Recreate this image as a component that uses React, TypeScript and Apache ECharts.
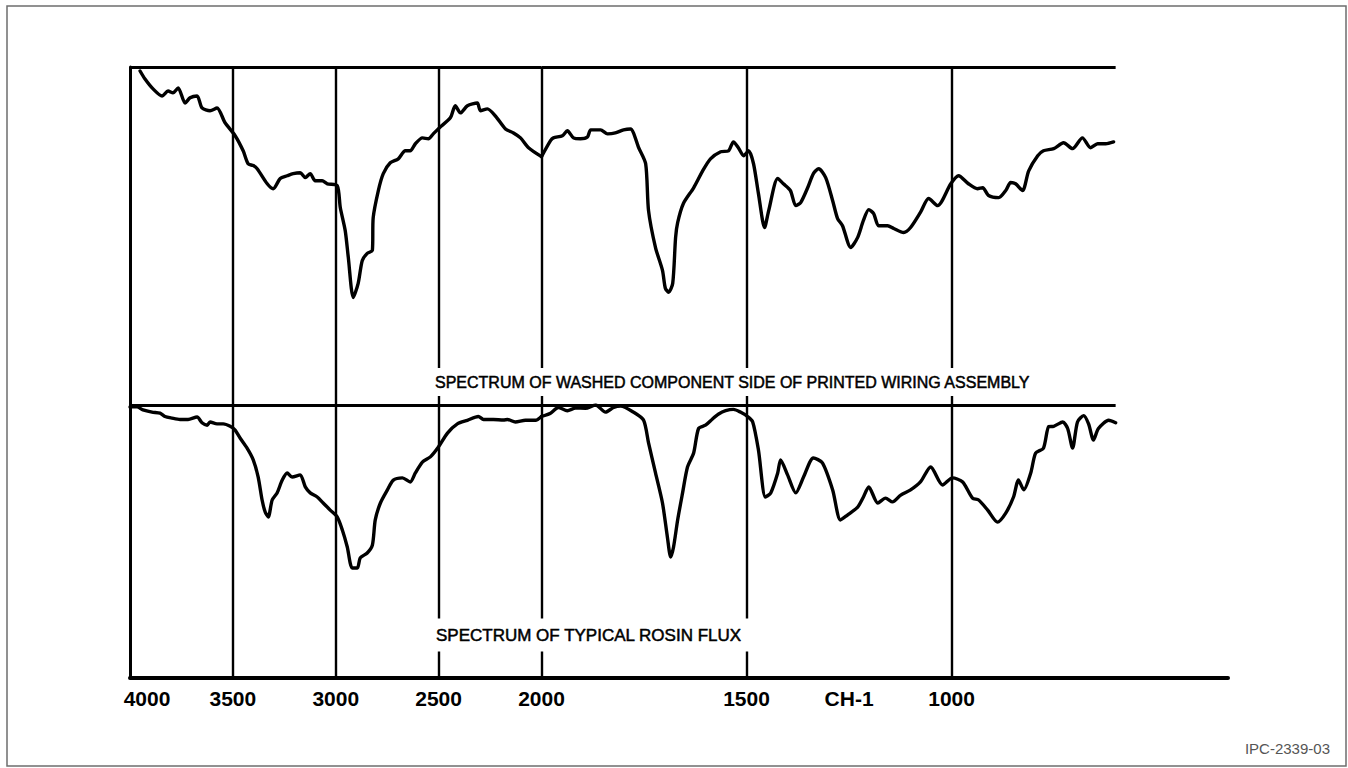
import React, { useEffect, useRef } from "react";
import * as echarts from "echarts";

// Infrared spectra: [wavenumber (cm-1), transmittance (relative %)]
const TOP_SPECTRUM: [number, number][] = [
  [3951, 98.7], [3927, 96.1], [3888, 92.9], [3844, 90.6], [3815, 92.2], [3791, 91.6], [3766, 93.2], [3732, 88.3],
  [3708, 90.0], [3674, 90.6], [3650, 86.7], [3611, 85.8], [3577, 86.7], [3538, 81.9], [3489, 77.7], [3450, 72.8],
  [3426, 68.6], [3401, 68.0], [3382, 67.0], [3333, 62.1], [3304, 60.5], [3270, 63.8], [3236, 64.7], [3207, 65.4],
  [3173, 65.7], [3148, 64.1], [3124, 65.4], [3100, 63.1], [3066, 63.1], [3041, 62.1], [2993, 61.5], [2978, 54.4],
  [2954, 46.9], [2939, 38.2], [2915, 25.2], [2891, 29.8], [2871, 37.2], [2847, 39.5], [2822, 40.5], [2818, 51.1],
  [2793, 59.9], [2769, 65.4], [2735, 68.9], [2696, 70.2], [2662, 72.8], [2638, 72.8], [2613, 75.1], [2579, 77.0],
  [2550, 76.7], [2526, 78.3], [2496, 80.3], [2443, 83.5], [2419, 87.4], [2394, 85.1], [2360, 87.4], [2312, 88.3],
  [2297, 85.8], [2263, 86.4], [2224, 84.1], [2175, 79.9], [2136, 78.6], [2102, 77.0], [2063, 73.8], [2000, 70.9],
  [1978, 76.1], [1971, 77.0], [1949, 77.7], [1937, 79.3], [1922, 77.0], [1905, 76.7], [1888, 77.3], [1880, 79.6],
  [1856, 79.6], [1839, 78.3], [1820, 78.6], [1800, 79.6], [1783, 79.9], [1763, 73.8], [1746, 68.6], [1739, 53.4],
  [1722, 41.4], [1705, 34.0], [1698, 28.2], [1690, 26.9], [1680, 29.8], [1673, 44.7], [1668, 49.5], [1654, 55.7],
  [1629, 60.8], [1607, 66.3], [1588, 70.2], [1563, 72.5], [1544, 72.8], [1532, 75.7], [1520, 73.8], [1507, 71.2],
  [1495, 72.8], [1483, 68.6], [1471, 58.9], [1456, 47.9], [1446, 53.4], [1424, 63.8], [1410, 62.1], [1393, 59.9],
  [1380, 55.0], [1368, 56.0], [1351, 60.8], [1337, 65.4], [1324, 67.0], [1307, 64.1], [1290, 56.6], [1278, 50.8],
  [1266, 48.5], [1246, 41.4], [1229, 44.7], [1215, 50.2], [1202, 53.7], [1190, 52.4], [1178, 48.5], [1156, 48.5],
  [1141, 47.6], [1117, 46.3], [1100, 47.9], [1076, 52.8], [1056, 57.3], [1034, 55.0], [1002, 62.1], [983, 64.7],
  [959, 62.1], [937, 60.5], [924, 60.8], [910, 58.3], [885, 57.6], [868, 59.9], [856, 62.5], [844, 62.1],
  [827, 59.9], [812, 66.3], [790, 71.2], [776, 72.8], [751, 73.5], [727, 75.4], [705, 73.5], [681, 77.0],
  [661, 73.8], [644, 75.1], [624, 75.1], [605, 75.7],
];

const BOTTOM_SPECTRUM: [number, number][] = [
  [4000, 99.3], [3966, 99.3], [3937, 98.2], [3893, 97.4], [3854, 97.0], [3830, 95.8], [3796, 95.2], [3757, 94.7],
  [3718, 94.7], [3674, 95.6], [3650, 93.5], [3625, 92.6], [3611, 93.8], [3577, 93.1], [3547, 93.1], [3513, 92.2],
  [3489, 90.8], [3465, 87.9], [3431, 84.2], [3401, 79.9], [3377, 73.6], [3358, 65.2], [3343, 60.8], [3328, 59.0],
  [3309, 65.2], [3285, 67.8], [3260, 72.5], [3236, 75.1], [3212, 73.6], [3173, 74.4], [3148, 70.0], [3124, 67.8],
  [3090, 66.3], [3061, 64.1], [3027, 61.5], [2993, 59.0], [2968, 54.2], [2944, 48.0], [2920, 40.3], [2895, 40.3],
  [2881, 44.0], [2847, 45.8], [2822, 48.7], [2808, 57.9], [2783, 64.1], [2749, 68.9], [2720, 72.5], [2676, 73.3],
  [2638, 71.8], [2613, 75.1], [2579, 79.1], [2540, 81.0], [2501, 84.6], [2457, 89.7], [2409, 93.1], [2360, 94.4],
  [2307, 95.8], [2282, 94.7], [2234, 94.7], [2185, 94.5], [2165, 94.7], [2127, 93.8], [2078, 94.4], [2029, 94.4],
  [2000, 95.8], [1978, 97.0], [1959, 99.1], [1937, 97.9], [1917, 98.9], [1893, 98.8], [1868, 100.0], [1844, 97.4],
  [1824, 99.1], [1807, 99.6], [1776, 97.4], [1751, 94.4], [1739, 86.1], [1722, 75.1], [1705, 64.1], [1693, 51.6],
  [1685, 44.3], [1678, 48.0], [1668, 57.9], [1656, 67.8], [1644, 77.3], [1629, 82.4], [1617, 91.4], [1600, 92.6],
  [1583, 94.9], [1568, 96.7], [1551, 97.9], [1532, 98.4], [1515, 97.4], [1498, 95.8], [1485, 93.8], [1471, 83.5],
  [1454, 66.3], [1441, 67.8], [1424, 75.1], [1417, 79.9], [1400, 74.4], [1380, 67.8], [1361, 73.6], [1337, 80.6],
  [1315, 78.8], [1290, 68.9], [1271, 57.9], [1254, 59.7], [1229, 62.6], [1215, 66.3], [1202, 70.0], [1180, 64.1],
  [1161, 65.9], [1144, 64.5], [1124, 67.0], [1100, 68.9], [1076, 71.8], [1051, 77.3], [1022, 70.7], [998, 73.3],
  [973, 71.8], [949, 65.9], [934, 65.2], [912, 61.5], [888, 57.1], [868, 60.4], [849, 66.3], [837, 72.5],
  [824, 68.9], [807, 75.1], [795, 82.4], [776, 84.2], [763, 92.1], [751, 92.2], [729, 93.8], [717, 91.4],
  [705, 84.2], [693, 93.8], [678, 96.1], [666, 93.1], [654, 87.2], [642, 91.4], [617, 94.4], [600, 93.5],
];

const SCALE_BREAK = 2000; // spectrometer doubles its scale below 2000 cm-1
const LEFT_TICKS = [4000, 3500, 3000, 2500, 2000];
const RIGHT_TICKS = [1500, 1250, 1000];
const RIGHT_TICK_LABELS = ["1500", "CH-1", "1000"];
const GRID_LINES_LEFT = [3500, 3000, 2500, 2000];
const GRID_LINES_RIGHT = [1500, 1000];
const FRAME_END = 600;
const RIGHT_AXIS_MIN = 326;
const TOP_Y_RANGE = [-9.7, 100];
const BOTTOM_Y_RANGE = [0, 100];
const TOP_LABEL = "SPECTRUM OF WASHED COMPONENT SIDE OF PRINTED WIRING ASSEMBLY";
const BOTTOM_LABEL = "SPECTRUM OF TYPICAL ROSIN FLUX";
const FIGURE_ID = "IPC-2339-03";

const FONT = '"Liberation Sans", Arial, Helvetica, sans-serif';

function buildOption() {
  const leftPart = (s: [number, number][]) => s.filter((p) => p[0] >= SCALE_BREAK);
  const rightPart = (s: [number, number][]) => s.filter((p) => p[0] <= SCALE_BREAK);

  const vLineStyle = { color: "#000", width: 2.4, type: "solid" as const };
  const hLineStyle = { color: "#000", width: 3, type: "solid" as const };

  const markLines = (verticals: number[], from: number, to: number) => ({
    silent: true,
    symbol: ["none", "none"],
    label: { show: false },
    animation: false,
    lineStyle: vLineStyle,
    data: [
      ...verticals.map((v) => ({ xAxis: v, lineStyle: vLineStyle })),
      [
        { coord: [from, 100], lineStyle: hLineStyle },
        { coord: [to, 100] },
      ],
    ],
  });

  const lineSeries = (data: [number, number][], idx: number, ml: any) => ({
    type: "line",
    xAxisIndex: idx,
    yAxisIndex: idx,
    data,
    showSymbol: false,
    symbol: "none",
    smooth: 0.25,
    lineStyle: { color: "#000", width: 3.4, cap: "round", join: "round" },
    silent: true,
    markLine: ml,
    z: 3,
  });

  const labelStyle = {
    fontFamily: FONT,
    fontWeight: "bold" as const,
    fontSize: 21,
    color: "#000",
  };

  const hiddenY = (gridIndex: number, frame: boolean, range: number[]) => ({
    type: "value",
    gridIndex,
    min: range[0],
    max: range[1],
    axisLine: { show: frame, onZero: false, lineStyle: { color: "#000", width: 3 } },
    axisTick: { show: false },
    axisLabel: { show: false },
    splitLine: { show: false },
  });

  const bottomAxisLine = { show: true, onZero: false, lineStyle: { color: "#000", width: 4 } };

  return {
    animation: false,
    backgroundColor: "#fff",
    grid: [
      { left: 130, top: 67, width: 411.5, height: 338 },
      { left: 541.5, top: 67, width: 686.5, height: 338 },
      { left: 130, top: 405, width: 411.5, height: 273 },
      { left: 541.5, top: 405, width: 686.5, height: 273 },
    ],
    xAxis: [
      { type: "value", gridIndex: 0, min: 2000, max: 4000, inverse: true, show: false },
      { type: "value", gridIndex: 1, min: RIGHT_AXIS_MIN, max: 2000, inverse: true, show: false },
      {
        type: "value",
        gridIndex: 2,
        min: 2000,
        max: 4000,
        interval: 500,
        inverse: true,
        axisLine: bottomAxisLine,
        axisTick: { show: false },
        splitLine: { show: false },
        axisLabel: {
          ...labelStyle,
          margin: 10,
          showMinLabel: true,
          showMaxLabel: true,
          customValues: LEFT_TICKS,
          formatter: (v: number) => (v === LEFT_TICKS[0] ? `{first|${v}}` : `{n|${v}}`),
          rich: {
            first: { ...labelStyle, padding: [0, 0, 0, 34] },
            n: { ...labelStyle },
          },
        },
      },
      {
        type: "value",
        gridIndex: 3,
        min: RIGHT_AXIS_MIN,
        max: 2000,
        inverse: true,
        axisLine: bottomAxisLine,
        axisTick: { show: false },
        splitLine: { show: false },
        axisLabel: {
          ...labelStyle,
          margin: 10,
          customValues: RIGHT_TICKS,
          formatter: (v: number) => {
            const i = RIGHT_TICKS.indexOf(v);
            return i >= 0 ? RIGHT_TICK_LABELS[i] : "";
          },
        },
      },
    ],
    yAxis: [
      hiddenY(0, true, TOP_Y_RANGE),
      hiddenY(1, false, TOP_Y_RANGE),
      hiddenY(2, true, BOTTOM_Y_RANGE),
      hiddenY(3, false, BOTTOM_Y_RANGE),
    ],
    series: [
      lineSeries(leftPart(TOP_SPECTRUM), 0, markLines(GRID_LINES_LEFT, 4000, SCALE_BREAK)),
      lineSeries(rightPart(TOP_SPECTRUM), 1, markLines(GRID_LINES_RIGHT, SCALE_BREAK, FRAME_END)),
      lineSeries(leftPart(BOTTOM_SPECTRUM), 2, markLines(GRID_LINES_LEFT, 4000, SCALE_BREAK)),
      lineSeries(rightPart(BOTTOM_SPECTRUM), 3, markLines(GRID_LINES_RIGHT, SCALE_BREAK, FRAME_END)),
    ],
    graphic: [
      {
        type: "rect",
        z: 50,
        silent: true,
        shape: { x: 7, y: 6, width: 1339, height: 760 },
        style: { fill: "none", stroke: "#6e6e6e", lineWidth: 1.5 },
      },
      {
        type: "text",
        z: 100,
        x: 432,
        y: 382,
        silent: true,
        style: {
          text: TOP_LABEL,
          font: `16px ${FONT}`,
          fill: "#000",
          stroke: "#000",
          lineWidth: 0.5,
          verticalAlign: "middle",
          align: "left",
          backgroundColor: "#fff",
          padding: [6, 3],
        },
      },
      {
        type: "text",
        z: 100,
        x: 433,
        y: 635,
        silent: true,
        style: {
          text: BOTTOM_LABEL,
          font: `17px ${FONT}`,
          fill: "#000",
          stroke: "#000",
          lineWidth: 0.5,
          verticalAlign: "middle",
          align: "left",
          backgroundColor: "#fff",
          padding: [8, 8, 8, 3],
        },
      },
      {
        type: "text",
        z: 100,
        x: 1330,
        y: 748,
        silent: true,
        style: {
          text: FIGURE_ID,
          font: `15px ${FONT}`,
          fill: "#555",
          verticalAlign: "middle",
          align: "right",
        },
      },
    ],
  };
}

export default function App() {
  const ref = useRef<HTMLDivElement>(null);
  useEffect(() => {
    if (!ref.current) return;
    const chart = echarts.init(ref.current, null, { renderer: "svg" });
    chart.setOption(buildOption() as any);
    return () => chart.dispose();
  }, []);
  return (
    <div
      ref={ref}
      style={{ position: "fixed", left: 0, top: 0, width: 1348, height: 768, background: "#fff" }}
    />
  );
}
